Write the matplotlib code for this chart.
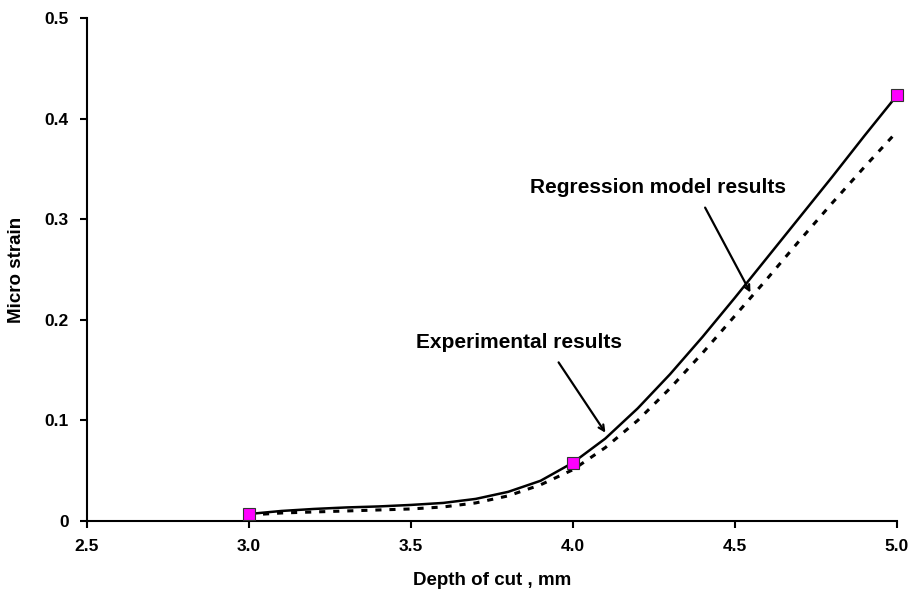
import matplotlib
matplotlib.use("Agg")
import matplotlib.pyplot as plt

plt.rcParams['font.family'] = ['Liberation Sans', 'DejaVu Sans']
plt.rcParams['font.weight'] = 'bold'

# Data
# -------------------------
depth = [3.0, 3.1, 3.2, 3.3, 3.4, 3.5, 3.6, 3.7, 3.8, 3.9, 4.0,
         4.1, 4.2, 4.3, 4.4, 4.5, 4.6, 4.7, 4.8, 4.9, 5.0]
experimental = [0.007, 0.010, 0.012, 0.0135, 0.0145, 0.016, 0.018, 0.022, 0.029, 0.040, 0.058,
                0.082, 0.112, 0.146, 0.183, 0.222, 0.262, 0.302, 0.342, 0.383, 0.423]
regression = [0.006, 0.008, 0.009, 0.010, 0.011, 0.012, 0.014, 0.018, 0.025, 0.036, 0.051,
              0.073, 0.100, 0.132, 0.167, 0.204, 0.241, 0.279, 0.316, 0.352, 0.387]

marker_depth = [3.0, 4.0, 5.0]
marker_strain = [0.007, 0.058, 0.423]

x_ticks = [2.5, 3.0, 3.5, 4.0, 4.5, 5.0]
y_ticks = [0, 0.1, 0.2, 0.3, 0.4, 0.5]
y_tick_labels = ['0', '0.1', '0.2', '0.3', '0.4', '0.5']

fig = plt.figure(figsize=(9.11, 6.05), dpi=100)
ax = fig.add_axes([0.0955, 0.1388, 0.889, 0.8314])

# Curves
ax.plot(depth, experimental, color='black', lw=1.8, solid_joinstyle='round')
ax.plot(depth, regression, color='black', lw=2.2, linestyle=(0, (2.0, 2.6)))
ax.plot(marker_depth, marker_strain, linestyle='none', marker='s', markersize=8.5,
        markerfacecolor='#ff00ff', markeredgecolor='#333333', markeredgewidth=0.8,
        clip_on=False, zorder=5)

# Axes styling
ax.set_xlim(2.5, 5.0)
ax.set_ylim(0, 0.5)
ax.set_xticks(x_ticks)
ax.set_xticklabels(['%.1f' % t for t in x_ticks])
ax.set_yticks(y_ticks)
ax.set_yticklabels(y_tick_labels)
for side in ['top', 'right']:
    ax.spines[side].set_visible(False)
for side in ['left', 'bottom']:
    ax.spines[side].set_linewidth(1.5)
ax.tick_params(direction='out', length=5, width=1.5, labelsize=12.5, pad=8)

ax.set_xlabel('Depth of cut , mm', fontsize=13.5, fontweight='bold', labelpad=13)
ax.set_ylabel('Micro strain', fontsize=13.5, fontweight='bold', labelpad=14)

# Annotations
ax.text(3.833, 0.177, 'Experimental results', fontsize=15, fontweight='bold',
        ha='center', va='center')
ax.annotate('', xy=(4.105, 0.0855), xytext=(3.951, 0.160),
            arrowprops=dict(arrowstyle='->', color='black', lw=1.6))
ax.text(4.264, 0.332, 'Regression model results', fontsize=15, fontweight='bold',
        ha='center', va='center')
ax.annotate('', xy=(4.552, 0.2247), xytext=(4.404, 0.314),
            arrowprops=dict(arrowstyle='->', color='black', lw=1.6))

fig.savefig('out.png', dpi=100)
